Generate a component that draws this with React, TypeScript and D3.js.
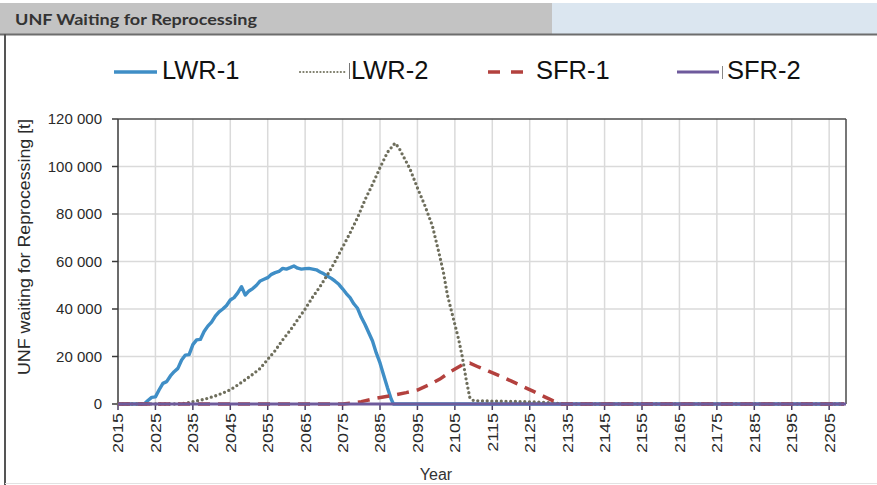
import React from "react";
import * as d3 from "d3";

// ---- data ----
const X_TICKS = [2015, 2025, 2035, 2045, 2055, 2065, 2075, 2085, 2095, 2105, 2115, 2125, 2135, 2145, 2155, 2165, 2175, 2185, 2195, 2205];
const Y_TICKS = [0, 20000, 40000, 60000, 80000, 100000, 120000];

const LWR1_YEARS = [2015, 2022, 2023, 2024, 2025, 2026, 2027, 2028, 2029, 2030, 2031, 2032, 2033, 2034, 2035, 2036, 2037, 2038, 2039, 2040, 2041, 2042, 2043, 2044, 2045, 2046, 2047, 2048, 2049, 2050, 2051, 2052, 2053, 2054, 2055, 2056, 2057, 2058, 2059, 2060, 2061, 2062, 2063, 2064, 2065, 2066, 2067, 2068, 2069, 2070, 2071, 2072, 2073, 2074, 2075, 2076, 2077, 2078, 2079, 2080, 2081, 2082, 2083, 2084, 2085, 2086, 2087, 2088, 2088.6, 2209];
const LWR1_VALUES = [0, 0, 1500, 2800, 3000, 6000, 8700, 9400, 11800, 13600, 15000, 18500, 20600, 20800, 25000, 27000, 27200, 30500, 32800, 34500, 37000, 38800, 40000, 41500, 43800, 44800, 46800, 49400, 45900, 47600, 48600, 50000, 51800, 52500, 53200, 54600, 55300, 55800, 57100, 56800, 57400, 58100, 57200, 56800, 57000, 57100, 56800, 56500, 55600, 54800, 53800, 52900, 51700, 50400, 48500, 46500, 44800, 42200, 40300, 36500, 33500, 30000, 26500, 21500, 17300, 12000, 6800, 2000, 0, 0];

const LWR2_YEARS = [2015, 2031, 2033, 2035, 2037, 2039, 2041, 2043, 2045, 2047, 2049, 2051, 2053, 2055, 2057, 2059, 2061, 2063, 2065, 2067, 2069, 2071, 2073, 2075, 2077, 2079, 2081, 2083, 2085, 2087, 2089, 2090, 2091, 2093, 2095, 2097, 2099, 2101, 2102, 2103, 2104, 2105, 2106, 2107, 2108, 2109, 2110, 2115, 2120, 2126, 2130, 2134, 2209];
const LWR2_VALUES = [0, 0, 300, 1000, 1600, 2400, 3400, 4600, 6000, 8000, 10200, 12500, 15000, 18800, 22500, 27000, 31000, 35500, 40000, 45000, 49500, 54500, 60000, 66000, 72000, 78500, 86000, 92500, 99500, 106000, 109800, 108000, 105000, 99000, 91000, 83500, 75000, 62000, 55000, 46000, 39700, 33500, 27300, 19800, 10500, 2700, 1400, 1200, 1100, 900, 600, 0, 0];

const SFR1_YEARS = [2015, 2075, 2078, 2080, 2084, 2088, 2092, 2095, 2098, 2101, 2104, 2107, 2109, 2111, 2114, 2117, 2120, 2123, 2126, 2129, 2131, 2133, 2209];
const SFR1_VALUES = [0, 0, 500, 1000, 2400, 3500, 4800, 5900, 8000, 10500, 13800, 16500, 17200, 15800, 13800, 11800, 9700, 7500, 5300, 3000, 1500, 0, 0];

const SFR2_YEARS = [2015, 2209.5];
const SFR2_VALUES = [0, 0];

const SERIES_NAMES = ["LWR-1", "LWR-2", "SFR-1", "SFR-2"];

// ---- layout ----
const W = 877;
const H = 485;
const PLOT = { left: 118, right: 846, top: 119, bottom: 404 };
const COLORS = { lwr1: "#3f8ec6", lwr2: "#6e6e5c", sfr1: "#b3413e", sfr2: "#6e5a9c" };

export default function App() {
  const x = d3.scaleLinear().domain([2015, 2209.5]).range([PLOT.left, PLOT.right]);
  const y = d3.scaleLinear().domain([0, 120000]).range([PLOT.bottom, PLOT.top]);
  const line = d3
    .line<[number, number]>()
    .x((d) => x(d[0]))
    .y((d) => y(d[1]));
  const zip = (a: number[], b: number[]) => a.map((v, i) => [v, b[i]] as [number, number]);
  const fmt = (v: number) => d3.format(",")(v).replace(/,/g, " ");

  const font = "'Liberation Sans', Arial, sans-serif";

  const legendItems = [
    { name: SERIES_NAMES[0], x0: 114, x1: 157, tx: 162, color: COLORS.lwr1, dash: undefined as string | undefined, cap: "butt", w: 3.5 },
    { name: SERIES_NAMES[1], x0: 300, x1: 346, tx: 351, color: "#7b7b68", dash: "0.1 3.3", cap: "round", w: 2.2 },
    { name: SERIES_NAMES[2], x0: 488, x1: 524, tx: 536, color: COLORS.sfr1, dash: "12 11", cap: "butt", w: 3.5 },
    { name: SERIES_NAMES[3], x0: 677, x1: 719, tx: 727, color: COLORS.sfr2, dash: undefined, cap: "butt", w: 3 },
  ];

  return (
    <svg width={W} height={H} style={{ position: "absolute", left: 0, top: 0, background: "#fff" }} fontFamily={font}>
      {/* title bar */}
      <rect x={0} y={3} width={552} height={31} fill="#c3c3c3" />
      <rect x={552} y={3} width={325} height={31} fill="#dbe6f0" />
      <text x={15} y={25} fontSize={14.5} fontWeight="bold" fill="#333" fontFamily="Lato, 'Open Sans', sans-serif" textLength={242} lengthAdjust="spacingAndGlyphs">
        UNF Waiting for Reprocessing
      </text>
      <line x1={0} x2={W} y1={34.5} y2={34.5} stroke="#6d6d6d" strokeWidth={2} />
      <line x1={5} x2={5} y1={34} y2={H} stroke="#555" strokeWidth={2} />
      <line x1={5} x2={W} y1={483.5} y2={483.5} stroke="#e2e2e2" strokeWidth={1} />

      {/* legend */}
      {legendItems.map((it) => (
        <g key={it.name}>
          <line x1={it.x0} x2={it.x1} y1={72} y2={72} stroke={it.color} strokeWidth={it.w} strokeDasharray={it.dash} strokeLinecap={it.cap as any} />
          <text x={it.tx} y={79} fontSize={25.5} fill="#111">
            {it.name}
          </text>
        </g>
      ))}
      <line x1={349.5} x2={349.5} y1={63} y2={79} stroke="#777" strokeWidth={1} />
      <line x1={722.5} x2={722.5} y1={66} y2={79} stroke="#888" strokeWidth={1} />

      {/* grid */}
      {X_TICKS.filter((t) => t !== 2015).map((t) => (
        <line key={"gx" + t} x1={x(t)} x2={x(t)} y1={PLOT.top} y2={PLOT.bottom} stroke="#dadada" strokeWidth={1.5} />
      ))}
      {Y_TICKS.filter((t) => t !== 0 && t !== 120000).map((t) => (
        <line key={"gy" + t} x1={PLOT.left} x2={PLOT.right} y1={y(t)} y2={y(t)} stroke="#dadada" strokeWidth={1.5} />
      ))}

      {/* plot border */}
      <line x1={PLOT.left} x2={PLOT.right} y1={PLOT.top} y2={PLOT.top} stroke="#4a4a4a" strokeWidth={1.5} />
      <line x1={PLOT.right} x2={PLOT.right} y1={PLOT.top} y2={PLOT.bottom} stroke="#4a4a4a" strokeWidth={1.5} />
      <line x1={PLOT.left} x2={PLOT.left} y1={PLOT.top} y2={PLOT.bottom} stroke="#3a3a3a" strokeWidth={1.5} />

      {/* y ticks */}
      {Y_TICKS.map((t) => (
        <g key={"yt" + t}>
          <line x1={PLOT.left - 6} x2={PLOT.left} y1={y(t)} y2={y(t)} stroke="#3a3a3a" strokeWidth={1.5} />
          <text x={102} y={y(t)} dy="0.36em" textAnchor="end" fontSize={15} fill="#2a2a2a">
            {fmt(t)}
          </text>
        </g>
      ))}
      <text transform={`translate(30,247) rotate(-90)`} textAnchor="middle" fontSize={16} fill="#2a2a2a" textLength={256} lengthAdjust="spacingAndGlyphs">
        UNF waiting for Reprocessing [t]
      </text>

      {/* x ticks */}
      {X_TICKS.map((t) => (
        <g key={"xt" + t}>
          <line x1={x(t)} x2={x(t)} y1={PLOT.bottom} y2={PLOT.bottom + 6} stroke="#4a3f63" strokeWidth={1.5} />
          <text transform={`translate(${x(t)},413) rotate(-90) scale(1.2,1)`} dy="0.36em" textAnchor="end" fontSize={15} fill="#2a2a2a">
            {t}
          </text>
        </g>
      ))}
      <text x={436} y={480} textAnchor="middle" fontSize={16} fill="#333">
        Year
      </text>

      {/* series */}
      <path d={line(zip(LWR1_YEARS, LWR1_VALUES)) || ""} fill="none" stroke={COLORS.lwr1} strokeWidth={3.4} strokeLinejoin="round" />
      <path d={line(zip(LWR2_YEARS, LWR2_VALUES)) || ""} fill="none" stroke={COLORS.lwr2} strokeWidth={3.3} strokeDasharray="0 4.7" strokeLinecap="round" />
      <path d={line(zip(SFR1_YEARS, SFR1_VALUES)) || ""} fill="none" stroke={COLORS.sfr1} strokeWidth={3.5} strokeDasharray="12 8" />
      <path d={line(zip(SFR2_YEARS, SFR2_VALUES)) || ""} fill="none" stroke={COLORS.sfr2} strokeWidth={3} />
    </svg>
  );
}
